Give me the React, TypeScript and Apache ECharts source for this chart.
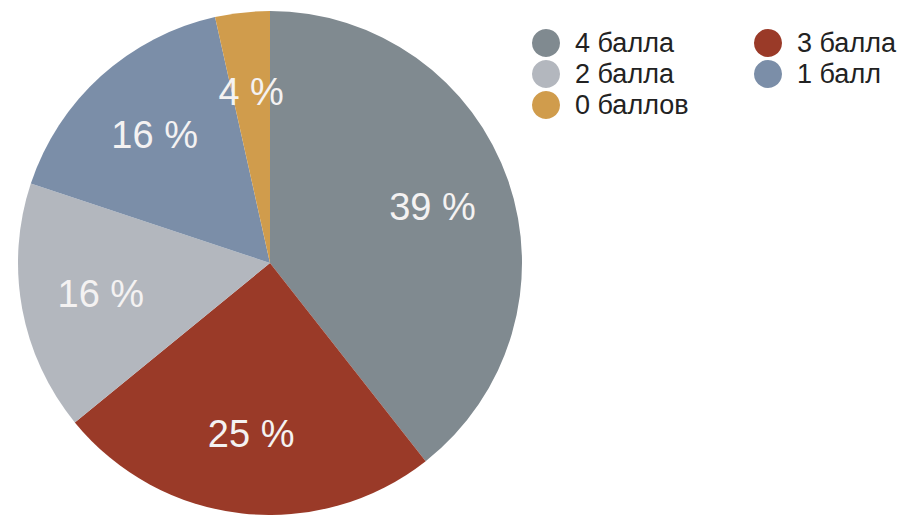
import React, { useEffect, useRef } from "react";
import * as echarts from "echarts";

const categories = ["4 балла", "3 балла", "2 балла", "1 балл", "0 баллов"];
const values = [39.4, 24.7, 16.0, 16.4, 3.5];
const colors = ["#808a90", "#9a3a28", "#b3b7be", "#7b8ea8", "#d09c4c"];
const legendCol1 = ["4 балла", "2 балла", "0 баллов"];
const legendCol2 = ["3 балла", "1 балл"];

export default function App() {
  const ref = useRef<HTMLDivElement>(null);
  useEffect(() => {
    document.body.style.margin = "0";
    if (!ref.current) return;
    const chart = echarts.init(ref.current, null, { renderer: "svg" });
    const data = categories.map((name, i) => ({
      name,
      value: values[i],
      itemStyle: { color: colors[i] },
    }));
    const legendBase = {
      orient: "vertical" as const,
      top: 24,
      icon: "circle",
      itemWidth: 28,
      itemHeight: 28,
      itemGap: 3,
      selectedMode: false,
      textStyle: {
        fontFamily: "Liberation Sans, Arial, sans-serif",
        fontSize: 27,
        color: "#222222",
        padding: [0, 0, 0, 10],
        lineHeight: 28,
      },
    };
    chart.setOption({
      animation: false,
      backgroundColor: "#ffffff",
      legend: [
        { ...legendBase, left: 527, data: legendCol1 },
        { ...legendBase, left: 749, data: legendCol2 },
      ],
      series: [
        {
          type: "pie",
          center: [270, 263],
          radius: [0, 252],
          startAngle: 90,
          clockwise: true,
          label: { show: false },
          labelLine: { show: false },
          emphasis: { disabled: true },
          data,
        },
        {
          type: "pie",
          center: [270, 263],
          radius: [86, 252],
          startAngle: 90,
          clockwise: true,
          silent: true,
          itemStyle: { color: "rgba(0,0,0,0)" },
          label: {
            show: true,
            position: "inside",
            formatter: (p: any) => Math.round(p.value) + " %",
            color: "#f4f2f2",
            fontFamily: "Liberation Sans, Arial, sans-serif",
            fontSize: 38,
          },
          labelLine: { show: false },
          emphasis: { disabled: true },
          data: categories.map((name, i) => ({
            name,
            value: values[i],
            itemStyle: { color: "rgba(0,0,0,0)" },
          })),
        },
      ],
    });
    return () => chart.dispose();
  }, []);
  return <div ref={ref} style={{ width: 910, height: 515 }} />;
}
